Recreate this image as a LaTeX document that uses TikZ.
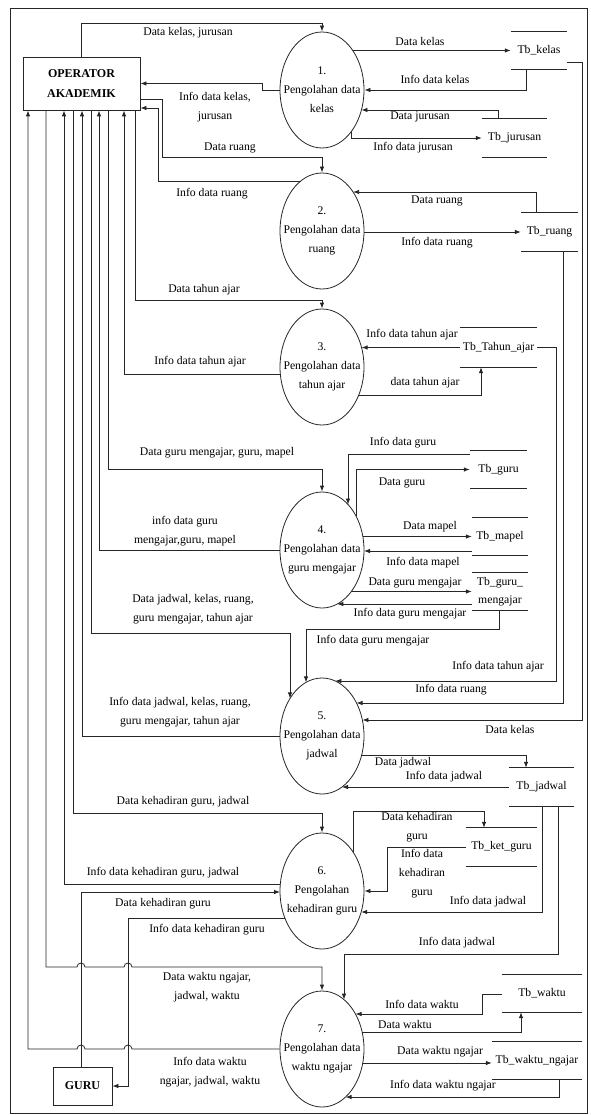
\documentclass[tikz,border=0pt]{standalone}
\usepackage{fontspec}
\setmainfont{Liberation Serif}
\usetikzlibrary{arrows.meta,calc,shapes.geometric}
\newcommand\dstore[6]{%
  \node[storetext, minimum width=#4, minimum height=#5] (#1) at (#2,#3) {#6};
  \draw[ln] (#1.north west) -- (#1.north east) (#1.south west) -- (#1.south east);}
\begin{document}
\begin{tikzpicture}[x=1pt,y=-1pt,
  ln/.style={draw=black!85, line width=0.8pt},
  flow/.style={ln, -{Latex[length=6pt,width=4.5pt]}},
  proc/.style={ellipse, draw=black!85, line width=0.8pt, minimum width=84pt, minimum height=116pt, inner sep=0pt},
  ptext/.style={inner sep=0pt, align=center, font=\fontsize{11.7}{19}\selectfont},
  ent/.style={draw=black!85, line width=0.8pt, align=center, font=\bfseries\fontsize{12}{19.5}\selectfont, inner sep=0pt},
  storetext/.style={inner sep=0pt, font=\fontsize{11.7}{18}\selectfont, align=center},
  lab/.style={inner sep=0pt, align=center, font=\fontsize{11.7}{19}\selectfont},
]
\useasboundingbox (0,0) rectangle (590,1115);
\draw[ln] (10,8) rectangle (587,1113);

% entities
\node[ent, minimum width=117pt, minimum height=53pt] (op) at (81.5,83.5) {OPERATOR\\AKADEMIK};
\node[ent, minimum width=59pt, minimum height=38pt] (guru) at (82.5,1086) {GURU};

% processes
\node[proc] (p1) at (322,90) {};
\node[proc] (p2) at (322,231) {};
\node[proc] (p3) at (322,367) {};
\node[proc] (p4) at (322,550) {};
\node[proc] (p5) at (322,736) {};
\node[proc] (p6) at (322,891) {};
\node[proc] (p7) at (322,1049) {};
\node[ptext] (t1) at (p1) {1.\\Pengolahan data\\kelas};
\node[ptext] (t2) at (p2) {2.\\Pengolahan data\\ruang};
\node[ptext] (t3) at (p3) {3.\\Pengolahan data\\tahun ajar};
\node[ptext] (t4) at (p4) {4.\\Pengolahan data\\guru mengajar};
\node[ptext] (t5) at (p5) {5.\\Pengolahan data\\jadwal};
\node[ptext] (t6) at (p6) {6.\\Pengolahan\\kehadiran guru};
\node[ptext] (t7) at (p7) {7.\\Pengolahan data\\waktu ngajar};

% data stores
\dstore{tkelas}{539}{50.5}{56pt}{37pt}{Tb\_kelas}
\dstore{tjurusan}{514.5}{138}{65pt}{38pt}{Tb\_jurusan}
\dstore{truang}{549.5}{232}{57pt}{38pt}{Tb\_ruang}
\dstore{ttahun}{498.5}{347.5}{77pt}{39pt}{Tb\_Tahun\_ajar}
\dstore{tguru}{498.5}{469.5}{57pt}{37pt}{Tb\_guru}
\dstore{tmapel}{500}{536.5}{56pt}{37pt}{Tb\_mapel}
\dstore{tgm}{500}{591.5}{56pt}{37pt}{Tb\_guru\_\\mengajar}
\dstore{tjadwal}{541.5}{787}{65pt}{38pt}{Tb\_jadwal}
\dstore{tket}{501.5}{847}{71pt}{38pt}{Tb\_ket\_guru}
\dstore{twaktu}{542}{993.5}{80pt}{37pt}{Tb\_waktu}
\dstore{twn}{537}{1060.5}{90pt}{37pt}{Tb\_waktu\_ngajar}

% process 1
\draw[flow] (op.north) |- (322,23) -- (p1.north);
\draw[flow] ($(p1)+(30.8,-39.5)$) -- (tkelas.west);
\draw[flow] ([xshift=-13pt]tkelas.south) |- (p1.east);
\draw[flow] (p1.west) -- (262,90) |- (op.east);
\draw[flow] ([xshift=-16.5pt]tjurusan.north) |- ($(p1)+(39.4,20)$);
\draw[flow] ($(p1)+(29,42)$) |- (tjurusan.west);

% process 2
\draw[flow] ([yshift=-15.5pt]op.east) -- (162,99) |- (322,157) -- (p2.north);
\draw[flow] ($(p2)+(-21.3,-50)$) -- (158,181) |- ([yshift=-24.5pt]op.east);
\draw[flow] ([xshift=-13.5pt]truang.north) |- ($(p2)+(31.1,-39)$);
\draw[flow] ($(p2)+(42,1)$) -- (truang.west);

% process 3
\draw[flow] ([xshift=53.5pt]op.south) |- (322,300) -- (p3.north);
\draw[flow] ($(p3)+(-41.7,7)$) -| ([xshift=42.5pt]op.south);
\draw[flow] (ttahun.west) -- ($(p3)+(39.6,-19.5)$);
\draw[flow] ($(p3)+(36.8,28)$) -| ([xshift=-17.5pt]ttahun.south);

% process 4
\draw[flow] ([xshift=26.5pt]op.south) |- (322,469) -- (p4.north);
\draw[flow] (p4.west) -| ([xshift=17.5pt]op.south);
\draw[flow] ([yshift=-4pt]tguru.north west) -| ($(p4)+(26,-45.5)$);
\draw[flow] ($(p4)+(34,-34)$) |- (tguru.west);
\draw[flow] ($(p4)+(40.8,-13.5)$) -- (tmapel.west);
\draw[flow] ([yshift=-14.5pt]tmapel.west) -- ($(p4)+(42,1)$);
\draw[flow] ($(p4)+(29.3,41.5)$) -- (tgm.west);
\draw[flow] ([yshift=-12.5pt]tgm.west) -- ($(p4)+(15.3,54)$);

% process 5
\draw[flow] ([xshift=-1pt]tgm.south) |- (306,629) -- ($(p5)+(-16,-53.6)$);
\draw[flow] ([xshift=9.5pt]op.south) |- (290,633) -- ($(p5)+(-32,-37.6)$);
\draw[flow] (p5.west) -| ([xshift=0.5pt]op.south);
\draw[flow] (ttahun.east) -- (556,347.5) |- ($(p5)+(13.3,-55)$);
\draw[flow] ([xshift=13.5pt]truang.south) |- ($(p5)+(34.5,-33)$);
\draw[flow] ([yshift=-11.5pt]tkelas.east) -- (582,62) |- ($(p5)+(40.4,-16)$);
\draw[flow] ($(p5)+(39.7,19)$) -| ([xshift=-15.5pt]tjadwal.north);
\draw[flow] (tjadwal.west) -- ($(p5)+(20,51)$);

% process 6
\draw[flow] ([xshift=-8.5pt]op.south) |- (322,813) -- (p6.north);
\draw[flow] ($(p6)+(-41.7,-7)$) -| ([xshift=-17.5pt]op.south);
\draw[flow] ([xshift=-1.5pt]guru.north) |- ($(p6)+(-42,1)$);
\draw[flow] ($(p6)+(-37.2,27)$) -- (128,918) |- (guru.east);
\draw[flow] ($(p6)+(31,-39)$) |- (484,811) -- ([xshift=-17.5pt]tket.north);
\draw[flow] (tket.west) -- (387,847) |- (p6.east);
\draw[flow] ([xshift=0.5pt]tjadwal.south) |- ($(p6)+(39.2,21)$);

% process 7
\draw[flow] ([xshift=-35.5pt]op.south) |- (77,967) arc[start angle=180,end angle=360,radius=4]
  -- (124,967) arc[start angle=180,end angle=360,radius=4] -- (322,967) -- (p7.north);
\draw[flow] (p7.west) -- (132,1049) arc[start angle=0,end angle=-180,radius=4]
  -- (85,1049) arc[start angle=0,end angle=-180,radius=4] -- (28,1049) -- ([xshift=-53.5pt]op.south);
\draw[flow] ([xshift=16.5pt]tjadwal.south) |- (344,954) -- ($(p7)+(22,-49.4)$);
\draw[flow] ([yshift=-0.5pt]twaktu.west) -- (482,994) |- ($(p7)+(33.5,-35)$);
\draw[flow] ($(p7)+(40.2,-17)$) -| ([xshift=-21pt]twaktu.south);
\draw[flow] ($(p7)+(40.8,14)$) -- ([yshift=-2.5pt]twn.west);
\draw[flow] ([xshift=22pt]twn.south) |- ($(p7)+(23.6,48)$);

% labels
\node[lab] (l1) at (188,33) {Data kelas, jurusan};
\node[lab] (l2) at (420,42) {Data kelas};
\node[lab] (l3) at (435,79) {Info data kelas};
\node[lab] (l4) at (215,107.5) {Info data kelas,\\jurusan};
\node[lab] (l5) at (420,117) {Data jurusan};
\node[lab] (l6) at (413,148) {Info data jurusan};
\node[lab] (l7) at (230,148) {Data ruang};
\node[lab] (l8) at (212,194) {Info data ruang};
\node[lab] (l9) at (437,201) {Data ruang};
\node[lab] (l10) at (437,243) {Info data ruang};
\node[lab] (l11) at (204,290) {Data tahun ajar};
\node[lab] (l12) at (200,362) {Info data tahun ajar};
\node[lab] (l13) at (412,335) {Info data tahun ajar};
\node[lab] (l14) at (425,383) {data tahun ajar};
\node[lab] (l15) at (217,453) {Data guru mengajar, guru, mapel};
\node[lab] (l16) at (185,531) {info data guru\\mengajar,guru, mapel};
\node[lab] (l17) at (403,443) {Info data guru};
\node[lab] (l18) at (402,483) {Data guru};
\node[lab] (l19) at (430,527) {Data mapel};
\node[lab] (l20) at (423,563) {Info data mapel};
\node[lab] (l21) at (415,583) {Data guru mengajar};
\node[lab] (l22) at (410,614) {Info data guru mengajar};
\node[lab] (l23) at (373,641) {Info data guru mengajar};
\node[lab] (l24) at (193,609.5) {Data jadwal, kelas, ruang,\\guru mengajar, tahun ajar};
\node[lab] (l25) at (180,712) {Info data jadwal, kelas, ruang,\\guru mengajar, tahun ajar};
\node[lab] (l26) at (498,667) {Info data tahun ajar};
\node[lab] (l27) at (451,690) {Info data ruang};
\node[lab] (l28) at (510,729) {Data kelas};
\node[lab] (l29) at (403,763) {Data jadwal};
\node[lab] (l30) at (444,777) {Info data jadwal};
\node[lab] (l31) at (183,802) {Data kehadiran guru, jadwal};
\node[lab] (l32) at (163,873) {Info data kehadiran guru, jadwal};
\node[lab] (l33) at (163,904) {Data kehadiran guru};
\node[lab] (l34) at (207,930) {Info data kehadiran guru};
\node[lab] (l35) at (417,827) {Data kehadiran\\guru};
\node[lab] (l36) at (422,874) {Info data\\kehadiran\\guru};
\node[lab] (l37) at (488,902) {Info data jadwal};
\node[lab] (l38) at (207,987) {Data waktu ngajar,\\jadwal, waktu};
\node[lab] (l39) at (210,1072.5) {Info data waktu\\ngajar, jadwal, waktu};
\node[lab] (l40) at (457,943) {Info data jadwal};
\node[lab] (l41) at (422,1004) {Info data waktu};
\node[lab] (l42) at (405,1024) {Data waktu};
\node[lab] (l43) at (440,1052) {Data waktu ngajar};
\node[lab] (l44) at (443,1086) {Info data waktu ngajar};
\end{tikzpicture}
\end{document}
